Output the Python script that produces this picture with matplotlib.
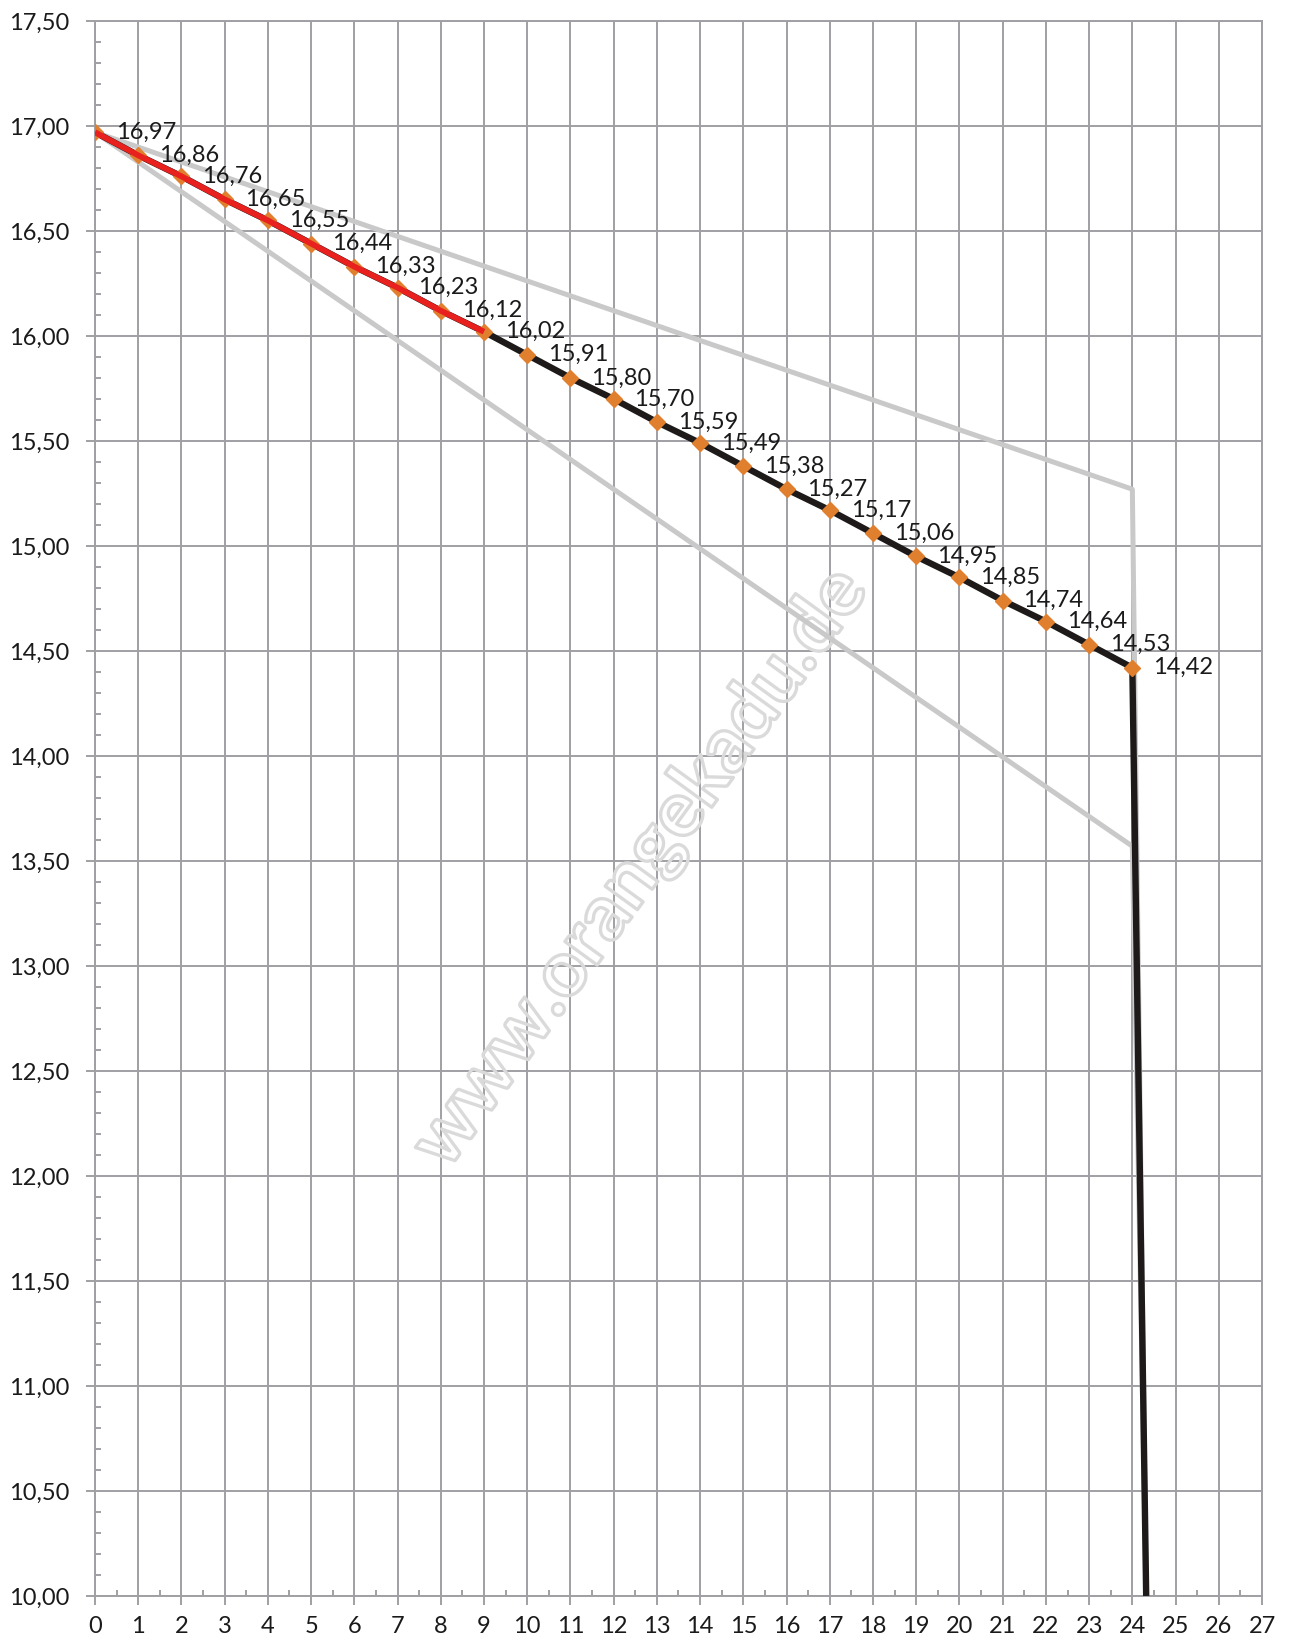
import matplotlib
matplotlib.use('Agg')
import matplotlib.pyplot as plt
import matplotlib.patheffects as pe
from matplotlib.ticker import MultipleLocator, FuncFormatter

plt.rcParams['font.family'] = ['Lato', 'DejaVu Sans']

# main series (one value per x step)
x_vals = list(range(25))
y_vals = [16.97, 16.86, 16.76, 16.65, 16.55, 16.44, 16.33, 16.23, 16.12, 16.02,
          15.91, 15.80, 15.70, 15.59, 15.49, 15.38, 15.27, 15.17, 15.06, 14.95,
          14.85, 14.74, 14.64, 14.53, 14.42]
# end point of the drop after x=24
drop_x = 24.32
drop_y = 10.0
# red highlighted part
red_end = 9
# grey limit lines
upper_x = [0, 24, 24.32]
upper_y = [16.97, 15.27, 10.0]
lower_x = [0, 24, 24.32]
lower_y = [16.97, 13.57, 10.0]

grid_col = '#A0A0A4'

fig = plt.figure(figsize=(12.92, 16.46), dpi=100)
ax = fig.add_axes([0.0735, 0.0304, 0.9033, 0.9569])

ax.plot(upper_x, upper_y, color='#C9C9C9', lw=3.6, zorder=2, solid_capstyle='butt')
ax.plot(lower_x, lower_y, color='#C9C9C9', lw=3.6, zorder=2, solid_capstyle='butt')
ax.plot(x_vals + [drop_x], y_vals + [drop_y], color='#1E1A1A', lw=4.6, zorder=3,
        solid_capstyle='butt')
ax.plot(x_vals, y_vals, linestyle='none', marker='D', markersize=8.5,
        color='#E0802F', zorder=4)
ax.plot(x_vals[:red_end + 1], y_vals[:red_end + 1], color='#E8201E', lw=4.2, zorder=5,
        solid_capstyle='butt')

for xv, yv in zip(x_vals, y_vals):
    ax.annotate(f'{yv:.2f}'.replace('.', ','), (xv, yv), xytext=(15, 0),
                textcoords='offset points', ha='left', va='center',
                fontsize=17, color='#1a1a1a', zorder=6)

# watermark
ax.text(0.468, 0.462, 'www.orangekadu.de', transform=ax.transAxes, rotation=54,
        rotation_mode='anchor', ha='center', va='center', fontsize=56,
        fontweight='bold', color='none', zorder=1,
        path_effects=[pe.Stroke(linewidth=2.4, foreground='#DADADA')])

ax.set_xlim(0, 27)
ax.set_ylim(10, 17.5)
ax.xaxis.set_major_locator(MultipleLocator(1))
ax.xaxis.set_minor_locator(MultipleLocator(0.5))
ax.yaxis.set_major_locator(MultipleLocator(0.5))
ax.yaxis.set_minor_locator(MultipleLocator(0.1))
ax.yaxis.set_major_formatter(FuncFormatter(lambda v, p: f'{v:.2f}'.replace('.', ',')))

ax.grid(True, which='major', color=grid_col, lw=1.4, zorder=0)
ax.set_axisbelow(True)
for s in ax.spines.values():
    s.set_color(grid_col)
    s.set_linewidth(1.4)

ax.tick_params(which='major', direction='out', length=6.5, width=1.4, color=grid_col,
               labelsize=17, labelcolor='#1a1a1a')
ax.tick_params(which='minor', direction='in', length=4.3, width=1.4, color=grid_col)
ax.tick_params(axis='y', which='major', pad=12)
ax.tick_params(axis='x', which='major', pad=8)

fig.savefig('out.png', dpi=100)
